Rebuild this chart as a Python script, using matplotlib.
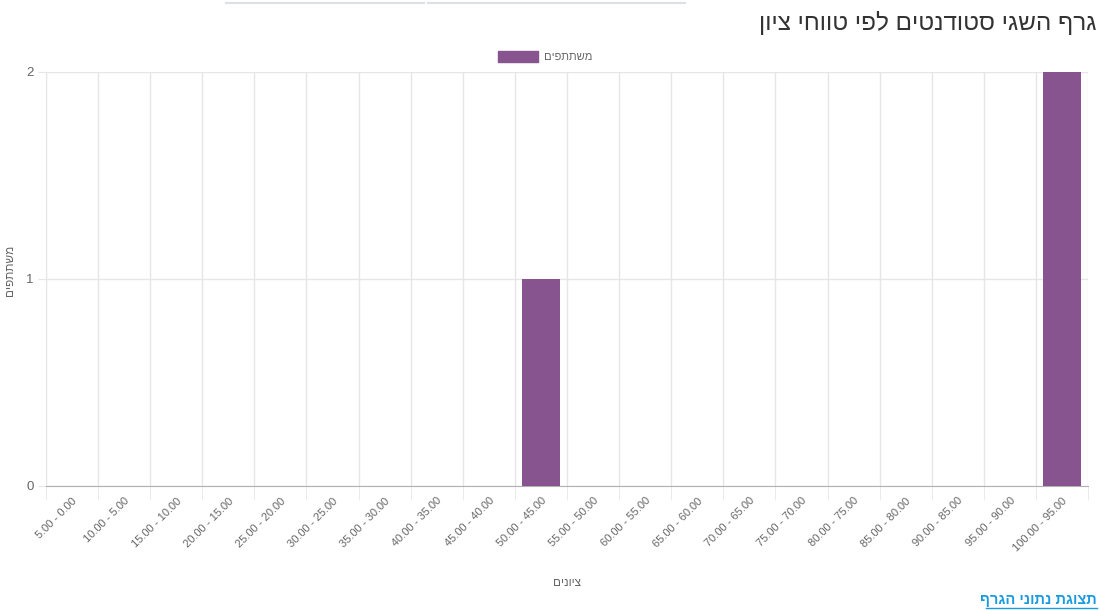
import matplotlib.pyplot as plt
from matplotlib.lines import Line2D
import numpy as np

plt.rcParams['font.family'] = ['Liberation Sans', 'DejaVu Sans']

# Data
categories = ["5.00 - 0.00", "10.00 - 5.00", "15.00 - 10.00", "20.00 - 15.00",
              "25.00 - 20.00", "30.00 - 25.00", "35.00 - 30.00", "40.00 - 35.00",
              "45.00 - 40.00", "50.00 - 45.00", "55.00 - 50.00", "60.00 - 55.00",
              "65.00 - 60.00", "70.00 - 65.00", "75.00 - 70.00", "80.00 - 75.00",
              "85.00 - 80.00", "90.00 - 85.00", "95.00 - 90.00", "100.00 - 95.00"]
participants = [0, 0, 0, 0, 0, 0, 0, 0, 0, 1, 0, 0, 0, 0, 0, 0, 0, 0, 0, 2]
y_ticks = [0, 1, 2]

TITLE = "גרף השגי סטודנטים לפי טווחי ציון"
SERIES = "משתתפים"
XLABEL = "ציונים"
LINK = "תצוגת נתוני הגרף"


def rtl(s):
    # matplotlib has no bidi support, so flip Hebrew for display
    return s[::-1]


BAR = "#88548f"
GRID = "#e6e6e6"
TEXT = "#666666"

fig = plt.figure(figsize=(11, 6.1), dpi=100)
ax = fig.add_axes([0.0418, 0.2033, 0.9473, 0.6787])

x = np.arange(len(categories))
ax.bar(x, participants, width=0.73, color=BAR, zorder=3)

ax.set_xlim(-0.5, len(categories) - 0.5)
ax.set_ylim(0, 2)
ax.set_yticks(y_ticks)
ax.set_yticklabels([str(v) for v in y_ticks], fontsize=9.5, color=TEXT)
ax.set_xticks(x)
ax.set_xticklabels(categories, rotation=45, ha='right', rotation_mode='anchor',
                   fontsize=8, color=TEXT)
ax.tick_params(axis='x', length=0, pad=7)
ax.tick_params(axis='y', length=6, color=GRID, pad=3)

# category boundary lines (grid + small ticks below axis)
ax.set_xticks(np.arange(len(categories) + 1) - 0.5, minor=True)
ax.tick_params(axis='x', which='minor', length=10, color=GRID, direction='out')
ax.grid(True, which='minor', axis='x', color=GRID, lw=1, zorder=0)
ax.grid(True, which='major', axis='y', color=GRID, lw=1, zorder=0)

for side in ['top', 'right']:
    ax.spines[side].set_visible(False)
ax.spines['left'].set_color(GRID)
ax.spines['bottom'].set_color("#b0b0b0")

ax.set_xlabel(rtl(XLABEL), fontsize=8.5, color=TEXT)
ax.xaxis.set_label_coords(0.5, -0.22)
ax.set_ylabel(rtl(SERIES), fontsize=8.5, color=TEXT)
ax.yaxis.set_label_coords(-0.029, 0.52)

# legend
ax.legend([plt.Rectangle((0, 0), 1, 1, color=BAR)], [rtl(SERIES)],
          loc='lower center', bbox_to_anchor=(0.479, 1.0), frameon=False,
          fontsize=8, handlelength=3.6, handleheight=1.2, handletextpad=0.5,
          labelcolor=TEXT)

# title and link
fig.text(0.997, 0.963, rtl(TITLE), ha='right', va='center', fontsize=17.5, color="#333333")
fig.text(0.997, 0.016, rtl(LINK), ha='right', va='center', fontsize=10.5,
         color="#1a9be0", fontweight='bold')
fig.add_artist(Line2D([0.896, 0.997], [0.003, 0.003], color="#1a9be0", lw=1))

# top tab lines
fig.add_artist(Line2D([226 / 1100, 424 / 1100], [0.995, 0.995], color="#dde1e6", lw=1.5))
fig.add_artist(Line2D([428 / 1100, 685 / 1100], [0.995, 0.995], color="#dde1e6", lw=1.5))

fig.savefig("out.png", dpi=100)
